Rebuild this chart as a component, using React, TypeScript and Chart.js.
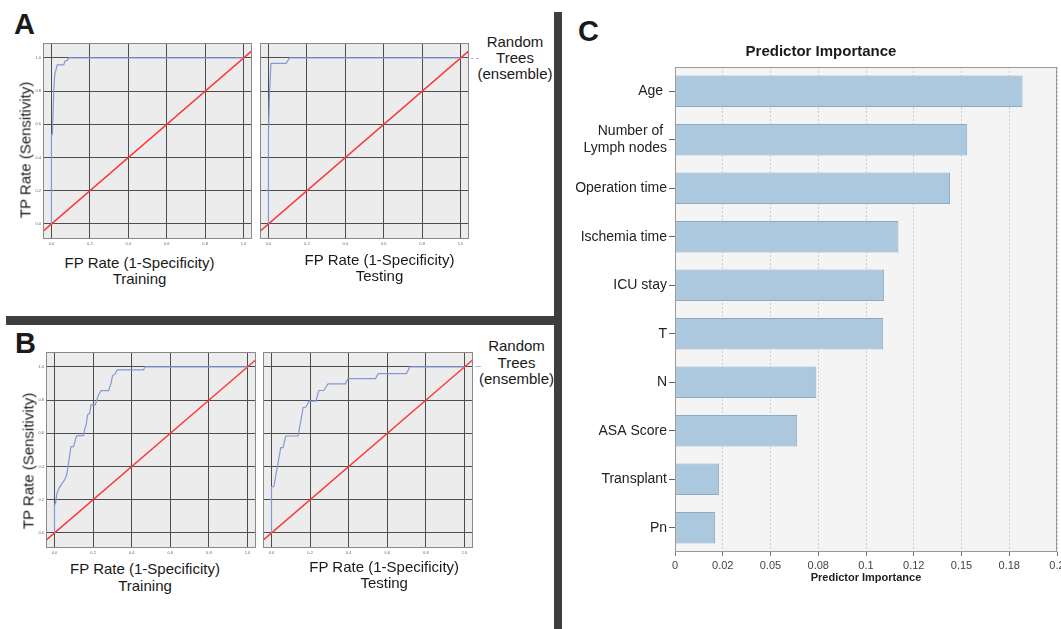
import React, { useEffect, useRef } from 'react';
import { Chart, registerables } from 'chart.js';

Chart.register(...registerables);

const FONT = '"Liberation Sans", Arial, Helvetica, sans-serif';

// ---------- ROC data ----------
const rocTickLabels = ['0.0', '0.2', '0.4', '0.6', '0.8', '1.0'];
const diagonalX = [-0.2, 1.2];
const diagonalY = [-0.2, 1.2];

const aTrainFpr = [0, 0, 0.005, 0.012, 0.017, 0.03, 0.064, 0.07, 0.082, 0.09, 1.0];
const aTrainTpr = [0, 0.54, 0.54, 0.8, 0.9, 0.958, 0.958, 0.98, 0.985, 1.0, 1.0];

const aTestFpr = [0, 0, 0.006, 0.013, 0.092, 0.11, 1.0];
const aTestTpr = [0, 0.55, 0.8, 0.967, 0.967, 1.0, 1.0];

const bTrainFpr = [0, 0, 0.005, 0.012, 0.024, 0.038, 0.055, 0.064, 0.076, 0.085, 0.099, 0.112, 0.119, 0.15, 0.159, 0.164, 0.171, 0.182, 0.189, 0.211, 0.228, 0.242, 0.28, 0.292, 0.301, 0.315, 0.324, 0.462, 0.467, 1.0];
const bTrainTpr = [0, 0.175, 0.175, 0.235, 0.27, 0.295, 0.325, 0.355, 0.446, 0.52, 0.52, 0.578, 0.586, 0.586, 0.637, 0.65, 0.71, 0.72, 0.771, 0.771, 0.831, 0.857, 0.857, 0.898, 0.948, 0.958, 0.982, 0.982, 1.0, 1.0];

const bTestFpr = [0, 0, 0.012, 0.048, 0.06, 0.074, 0.138, 0.164, 0.178, 0.195, 0.23, 0.245, 0.271, 0.293, 0.383, 0.397, 0.539, 0.553, 0.699, 0.717, 1.0];
const bTestTpr = [0, 0.278, 0.278, 0.514, 0.514, 0.584, 0.584, 0.754, 0.758, 0.794, 0.794, 0.858, 0.858, 0.898, 0.898, 0.93, 0.93, 0.96, 0.96, 1.0, 1.0];

// ---------- Predictor importance data ----------
const predictors: (string | string[])[] = [
  'Age ',
  ['Number of ', 'Lymph nodes'],
  'Operation time',
  'Ischemia time',
  'ICU stay',
  'T',
  'N',
  'ASA Score',
  'Transplant',
  'Pn',
];
const importance = [0.182, 0.153, 0.144, 0.117, 0.1095, 0.109, 0.074, 0.064, 0.023, 0.021];
const importanceTickLabels = ['0', '0.02', '0.05', '0.08', '0.1', '0.12', '0.15', '0.18', '0.2'];

// ---------- plugin: plot background + frame ----------
const boxPlugin = {
  id: 'boxPlugin',
  beforeDraw(chart: any, _args: any, opts: any) {
    const { ctx, chartArea } = chart;
    ctx.save();
    ctx.fillStyle = opts.bg;
    ctx.fillRect(chartArea.left, chartArea.top, chartArea.right - chartArea.left, chartArea.bottom - chartArea.top);
    ctx.restore();
  },
  afterDraw(chart: any, _args: any, opts: any) {
    const { ctx, chartArea } = chart;
    ctx.save();
    ctx.strokeStyle = opts.border;
    ctx.lineWidth = 1;
    ctx.strokeRect(
      Math.round(chartArea.left) + 0.5,
      Math.round(chartArea.top) + 0.5,
      Math.round(chartArea.right - chartArea.left) - 1,
      Math.round(chartArea.bottom - chartArea.top) - 1
    );
    ctx.restore();
  },
};

type RocProps = { boxLeft: number; boxTop: number; boxW: number; boxH: number; fpr: number[]; tpr: number[]; showY: boolean };

function RocChart({ boxLeft, boxTop, boxW, boxH, fpr, tpr, showY }: RocProps) {
  const ref = useRef<HTMLCanvasElement>(null);
  const padL = 14;
  const padT = 3;
  const padR = 3;
  const padB = 10;
  const W = boxW + padL + padR;
  const H = boxH + padT + padB;
  useEffect(() => {
    const curve = fpr.map((x, i) => ({ x, y: tpr[i] }));
    const diag = diagonalX.map((x, i) => ({ x, y: diagonalY[i] }));
    const chart = new Chart(ref.current as HTMLCanvasElement, {
      type: 'scatter',
      data: {
        datasets: [
          { data: curve, showLine: true, borderColor: '#8797d6', borderWidth: 1.2, pointRadius: 0, tension: 0 } as any,
          { data: diag, showLine: true, borderColor: '#ff3434', borderWidth: 1.5, pointRadius: 0, tension: 0 } as any,
        ],
      },
      options: {
        animation: false,
        responsive: false,
        events: [],
        layout: { padding: { top: padT, right: padR, left: 0, bottom: 0 } },
        plugins: {
          legend: { display: false },
          tooltip: { enabled: false },
          boxPlugin: { bg: '#ececec', border: '#8a8a8a' },
        } as any,
        scales: {
          x: {
            type: 'linear',
            min: -0.044,
            max: 1.044,
            ticks: {
              stepSize: 0.2,
              includeBounds: false,
              autoSkip: false,
              maxRotation: 0,
              padding: 2,
              color: '#666',
              font: { size: 4, family: FONT },
              callback: (_v: any, i: number) => rocTickLabels[i],
            },
            grid: { color: '#4d4d4d', lineWidth: 1, drawTicks: false },
            border: { display: false },
            afterFit: (s: any) => {
              s.height = padB;
              s.paddingLeft = 0;
              s.paddingRight = 0;
            },
          } as any,
          y: {
            type: 'linear',
            min: -0.091,
            max: 1.09,
            ticks: {
              display: showY,
              stepSize: 0.2,
              includeBounds: false,
              autoSkip: false,
              padding: 2,
              color: '#666',
              font: { size: 4, family: FONT },
              callback: (_v: any, i: number) => rocTickLabels[i],
            },
            grid: { color: '#4d4d4d', lineWidth: 1, drawTicks: false },
            border: { display: false },
            afterFit: (s: any) => {
              s.width = padL;
              s.paddingTop = 0;
              s.paddingBottom = 0;
            },
          } as any,
        },
      },
      plugins: [boxPlugin as any],
    });
    return () => chart.destroy();
  }, []);
  return (
    <canvas
      ref={ref}
      width={W}
      height={H}
      style={{ position: 'absolute', left: boxLeft - padL, top: boxTop - padT, width: W, height: H, display: 'block' }}
    />
  );
}

function ImportanceChart() {
  const ref = useRef<HTMLCanvasElement>(null);
  const left = 562;
  const top = 60;
  const W = 499;
  const H = 525;
  useEffect(() => {
    const chart = new Chart(ref.current as HTMLCanvasElement, {
      type: 'bar',
      data: {
        labels: predictors as any,
        datasets: [
          {
            data: importance,
            backgroundColor: '#abc8de',
            borderColor: '#8eaac3',
            borderWidth: 1,
            borderSkipped: false,
            barPercentage: 0.65,
            categoryPercentage: 1,
          } as any,
        ],
      },
      options: {
        indexAxis: 'y',
        animation: false,
        responsive: false,
        events: [],
        layout: { padding: { top: 7, right: 4, left: 0, bottom: 0 } },
        plugins: {
          legend: { display: false },
          tooltip: { enabled: false },
          boxPlugin: { bg: '#f4f4f4', border: '#9a9a9a' },
        } as any,
        scales: {
          x: {
            type: 'linear',
            min: 0,
            max: 0.2,
            ticks: {
              stepSize: 0.025,
              autoSkip: false,
              maxRotation: 0,
              padding: 3,
              color: '#444',
              font: { size: 11, family: FONT },
              callback: (_v: any, i: number) => importanceTickLabels[i],
            },
            grid: { color: '#cdcdcd', lineWidth: 1, drawTicks: true, tickLength: 4, tickColor: '#777' },
            border: { display: false, dash: [2, 2] },
            title: {
              display: true,
              text: 'Predictor Importance',
              color: '#222',
              font: { size: 11, weight: 'bold', family: FONT },
              padding: { top: 0, bottom: 0 },
            },
            afterFit: (s: any) => {
              s.height = 33;
              s.paddingLeft = 0;
              s.paddingRight = 0;
            },
          } as any,
          y: {
            type: 'category',
            ticks: {
              autoSkip: false,
              padding: 2,
              color: '#222',
              font: { size: 14, family: FONT },
            },
            grid: { drawOnChartArea: false, drawTicks: true, tickLength: 6, tickColor: '#666', offset: false },
            border: { display: true, color: '#888' },
            afterFit: (s: any) => {
              s.width = 113;
              s.paddingTop = 0;
              s.paddingBottom = 0;
            },
          } as any,
        },
      },
      plugins: [boxPlugin as any],
    });
    return () => chart.destroy();
  }, []);
  return (
    <canvas
      ref={ref}
      width={W}
      height={H}
      style={{ position: 'absolute', left, top, width: W, height: H, display: 'block' }}
    />
  );
}

type TProps = { x: number; y: number; size: number; bold?: boolean; rotate?: boolean; lh?: number; children: React.ReactNode };

function T({ x, y, size, bold, rotate, lh, children }: TProps) {
  return (
    <div
      style={{
        position: 'absolute',
        left: x,
        top: y,
        transform: `translate(-50%, -50%)${rotate ? ' rotate(-90deg)' : ''}`,
        fontSize: size,
        fontWeight: bold ? 'bold' : 'normal',
        lineHeight: lh ? `${lh}px` : 1,
        whiteSpace: 'pre',
        textAlign: 'center',
        fontFamily: FONT,
        color: '#1a1a1a',
      }}
    >
      {children}
    </div>
  );
}

function LegendDash({ x, y, w }: { x: number; y: number; w: number }) {
  return <div style={{ position: 'absolute', left: x, top: y, width: w, height: 0, borderTop: '1px dashed #a9b4e2' }} />;
}

export default function App() {
  return (
    <div
      style={{
        position: 'absolute',
        left: 0,
        top: 0,
        width: 1061,
        height: 629,
        background: '#ffffff',
        overflow: 'hidden',
        fontFamily: FONT,
      }}
    >
      {/* separators */}
      <div style={{ position: 'absolute', left: 554, top: 12, width: 8, height: 617, background: '#3e3e3e' }} />
      <div style={{ position: 'absolute', left: 6, top: 316, width: 548, height: 9, background: '#3e3e3e' }} />

      {/* panel letters */}
      <T x={24.5} y={23.8} size={29} bold>A</T>
      <T x={25.5} y={343} size={29} bold>B</T>
      <T x={588.5} y={31.2} size={29} bold>C</T>

      {/* Panel A */}
      <RocChart boxLeft={43} boxTop={43} boxW={209} boxH={196} fpr={aTrainFpr} tpr={aTrainTpr} showY />
      <RocChart boxLeft={260} boxTop={43} boxW={209} boxH={196} fpr={aTestFpr} tpr={aTestTpr} showY={false} />
      <T x={25} y={149.7} size={15} rotate>TP Rate (Sensitivity)</T>
      <T x={139.5} y={262.3} size={15}>FP Rate (1-Specificity)</T>
      <T x={139.5} y={277.7} size={15}>Training</T>
      <T x={379.5} y={259} size={15}>FP Rate (1-Specificity)</T>
      <T x={379.5} y={275} size={15}>Testing</T>
      <T x={515} y={57.5} size={15} lh={16.3}>{'Random\nTrees\n(ensemble)'}</T>
      <LegendDash x={471} y={58} w={8} />

      {/* Panel B */}
      <RocChart boxLeft={46} boxTop={352} boxW={210} boxH={196} fpr={bTrainFpr} tpr={bTrainTpr} showY />
      <RocChart boxLeft={263} boxTop={352} boxW={210} boxH={196} fpr={bTestFpr} tpr={bTestTpr} showY={false} />
      <T x={27.5} y={460.8} size={15} rotate>TP Rate (Sensitivity)</T>
      <T x={145} y={568.3} size={15}>FP Rate (1-Specificity)</T>
      <T x={145} y={585} size={15}>Training</T>
      <T x={384.2} y={565.7} size={15}>FP Rate (1-Specificity)</T>
      <T x={384.2} y={581.7} size={15}>Testing</T>
      <T x={516.5} y={362.9} size={15} lh={16.7}>{'Random\nTrees\n(ensemble)'}</T>
      <LegendDash x={475} y={366} w={6} />

      {/* Panel C */}
      <T x={821} y={50} size={15} bold>Predictor Importance</T>
      <ImportanceChart />
    </div>
  );
}
